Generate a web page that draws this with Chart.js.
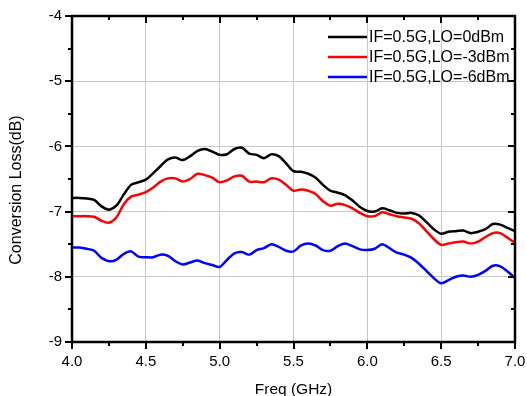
<!DOCTYPE html>
<html><head><meta charset="utf-8">
<script src="https://cdn.jsdelivr.net/npm/chart.js@4/dist/chart.umd.min.js"></script>
<style>html,body{margin:0;padding:0;background:#fff}#wrap{width:527px;height:396px}</style>
</head><body><div id="wrap"><canvas id="c" width="527" height="396"></canvas></div>
<script>
const freq = [4.00,4.05,4.10,4.15,4.20,4.25,4.30,4.35,4.40,4.45,4.50,4.55,4.60,4.65,4.70,4.75,4.80,4.85,4.90,4.95,5.00,5.05,5.10,5.15,5.20,5.25,5.30,5.35,5.40,5.45,5.50,5.55,5.60,5.65,5.70,5.75,5.80,5.85,5.90,5.95,6.00,6.05,6.10,6.15,6.20,6.25,6.30,6.35,6.40,6.45,6.50,6.55,6.60,6.65,6.70,6.75,6.80,6.85,6.90,6.95,7.00];
const lo0dBm = [-6.79,-6.79,-6.80,-6.82,-6.92,-6.97,-6.91,-6.74,-6.59,-6.55,-6.51,-6.41,-6.30,-6.20,-6.17,-6.21,-6.15,-6.07,-6.04,-6.08,-6.13,-6.12,-6.04,-6.02,-6.11,-6.13,-6.18,-6.12,-6.15,-6.26,-6.38,-6.39,-6.42,-6.48,-6.59,-6.68,-6.71,-6.75,-6.83,-6.93,-6.99,-7.00,-6.95,-6.98,-7.02,-7.03,-7.02,-7.06,-7.16,-7.27,-7.34,-7.31,-7.30,-7.29,-7.33,-7.31,-7.27,-7.19,-7.20,-7.25,-7.30];
const loM3dBm = [-7.07,-7.07,-7.07,-7.08,-7.14,-7.17,-7.09,-6.89,-6.77,-6.74,-6.70,-6.63,-6.54,-6.49,-6.49,-6.54,-6.50,-6.42,-6.44,-6.48,-6.55,-6.52,-6.46,-6.45,-6.54,-6.54,-6.55,-6.49,-6.51,-6.59,-6.68,-6.66,-6.68,-6.73,-6.84,-6.91,-6.88,-6.90,-6.95,-7.02,-7.07,-7.07,-7.01,-7.04,-7.07,-7.09,-7.11,-7.18,-7.30,-7.42,-7.51,-7.49,-7.47,-7.46,-7.49,-7.46,-7.39,-7.33,-7.33,-7.40,-7.48];
const loM6dBm = [-7.55,-7.55,-7.57,-7.60,-7.71,-7.76,-7.74,-7.65,-7.61,-7.69,-7.70,-7.70,-7.66,-7.68,-7.76,-7.81,-7.78,-7.75,-7.79,-7.82,-7.85,-7.74,-7.64,-7.62,-7.66,-7.59,-7.56,-7.50,-7.54,-7.60,-7.61,-7.52,-7.49,-7.52,-7.59,-7.60,-7.53,-7.49,-7.53,-7.58,-7.59,-7.57,-7.50,-7.56,-7.63,-7.66,-7.71,-7.80,-7.91,-8.02,-8.10,-8.05,-8.00,-7.98,-8.00,-7.97,-7.91,-7.83,-7.84,-7.92,-8.02];
const seriesLabels = ["IF=0.5G,LO=0dBm","IF=0.5G,LO=-3dBm","IF=0.5G,LO=-6dBm"];
const seriesColors = ["#000000","#ff0000","#0000ff"];
const xTicks = [4.0,4.5,5.0,5.5,6.0,6.5,7.0];
const yTicks = [-4,-5,-6,-7,-8,-9];
const xTitle = "Freq (GHz)";
const yTitle = "Conversion Loss(dB)";

const toPts = arr => arr.map((v,i)=>({x:freq[i], y:v}));
const FONT = "'Liberation Sans', Arial, sans-serif";

const framePlugin = {
  id:'frame',
  afterDatasetsDraw(chart){
    const {ctx, chartArea:a, scales:{x,y}} = chart;
    ctx.save();
    ctx.strokeStyle='#000'; ctx.lineWidth=2;
    ctx.beginPath();
    for(let k=0; k<=12; k++){
      const v=4+k*0.25, L=(k%2===0)?7:4;
      const px=Math.round(x.getPixelForValue(v));
      ctx.moveTo(px,a.bottom); ctx.lineTo(px,a.bottom+L);
      ctx.moveTo(px,a.top); ctx.lineTo(px,a.top+L);
    }
    for(let k=0; k<=10; k++){
      const v=-9+k*0.5, L=(k%2===0)?7:4;
      const py=Math.round(y.getPixelForValue(v));
      ctx.moveTo(a.left,py); ctx.lineTo(a.left-L,py);
      ctx.moveTo(a.right,py); ctx.lineTo(a.right-L,py);
    }
    ctx.stroke();
    ctx.lineWidth=2.5;
    ctx.strokeRect(a.left,a.top,a.right-a.left,a.bottom-a.top);
    // legend
    ctx.font = "16px " + FONT;
    ctx.textBaseline='middle';
    const rows=[37,57,77];
    chart.data.datasets.forEach((ds,i)=>{
      ctx.strokeStyle=ds.borderColor; ctx.lineWidth=2.5;
      ctx.beginPath(); ctx.moveTo(328,rows[i]); ctx.lineTo(367,rows[i]); ctx.stroke();
      ctx.fillStyle='#000';
      ctx.fillText(ds.label,369,rows[i]+1);
    });
    // y title
    ctx.translate(17,190);
    ctx.rotate(-Math.PI/2);
    ctx.textAlign='center';
    ctx.fillText(yTitle,0,0);
    ctx.restore();
  }
};

new Chart(document.getElementById('c'),{
  type:'line',
  data:{datasets:[
    {label:seriesLabels[0],data:toPts(lo0dBm),borderColor:seriesColors[0]},
    {label:seriesLabels[1],data:toPts(loM3dBm),borderColor:seriesColors[1]},
    {label:seriesLabels[2],data:toPts(loM6dBm),borderColor:seriesColors[2]}
  ]},
  options:{
    responsive:false,animation:false,
    layout:{padding:{top:16,right:12,left:0,bottom:0}},
    elements:{point:{radius:0},line:{borderWidth:2.5,tension:0.3}},
    plugins:{legend:{display:false},tooltip:{enabled:false}},
    scales:{
      x:{type:'linear',min:4,max:7,
        afterFit(s){s.height=54;s.paddingLeft=0;s.paddingRight=0;},
        afterBuildTicks(s){s.ticks=xTicks.map(v=>({value:v}));},
        border:{display:false},
        grid:{color:'#c8c8c8',lineWidth:1,drawTicks:false},
        ticks:{padding:11,color:'#000',font:{family:FONT,size:15},maxRotation:0,callback:v=>Number(v).toFixed(1)},
        title:{display:true,text:xTitle,color:'#000',font:{family:FONT,size:15.5},padding:{top:0,bottom:-3}}
      },
      y:{type:'linear',min:-9,max:-4,
        afterFit(s){s.width=72;s.paddingTop=0;s.paddingBottom=0;},
        afterBuildTicks(s){s.ticks=yTicks.map(v=>({value:v}));},
        border:{display:false},
        grid:{color:'#c8c8c8',lineWidth:1,drawTicks:false},
        ticks:{padding:10,color:'#000',font:{family:FONT,size:15},callback:v=>String(v)},
        title:{display:false}
      }
    }
  },
  plugins:[framePlugin]
});
</script></body></html>
